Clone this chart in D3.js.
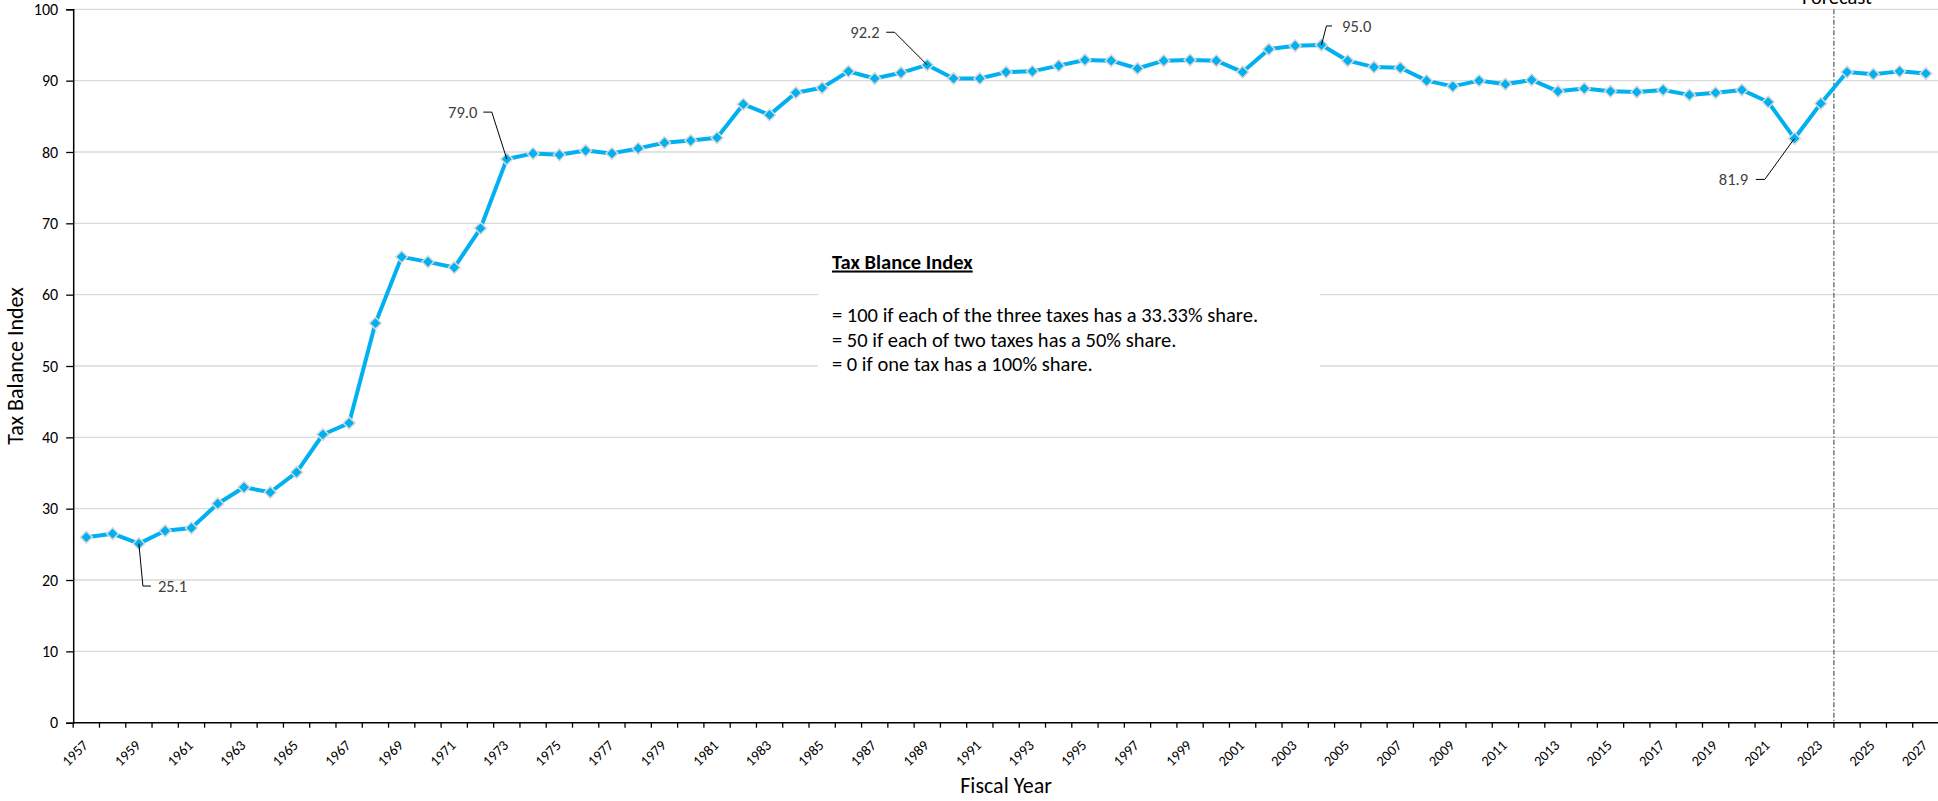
<!DOCTYPE html>
<html>
<head>
<meta charset="utf-8">
<script src="https://cdn.jsdelivr.net/npm/d3@7"></script>
<style>
  html, body { margin: 0; padding: 0; background: #fff; }
  svg { display: block; font-family: Calibri, Carlito, Lato, sans-serif; }
</style>
</head>
<body>
<div id="chart"></div>
<script>
// Tax balance index by fiscal year, 1957-2027 (2024+ is forecast)
var years = [1957, 1958, 1959, 1960, 1961, 1962, 1963, 1964, 1965, 1966, 1967, 1968, 1969, 1970,
  1971, 1972, 1973, 1974, 1975, 1976, 1977, 1978, 1979, 1980, 1981, 1982, 1983, 1984, 1985, 1986,
  1987, 1988, 1989, 1990, 1991, 1992, 1993, 1994, 1995, 1996, 1997, 1998, 1999, 2000, 2001, 2002,
  2003, 2004, 2005, 2006, 2007, 2008, 2009, 2010, 2011, 2012, 2013, 2014, 2015, 2016, 2017, 2018,
  2019, 2020, 2021, 2022, 2023, 2024, 2025, 2026, 2027];
var index = [26.0, 26.5, 25.1, 26.9, 27.3, 30.7, 33.0, 32.3, 35.1, 40.4, 42.0, 56.0, 65.3, 64.6,
  63.8, 69.3, 79.0, 79.8, 79.6, 80.2, 79.8, 80.5, 81.3, 81.6, 82.0, 86.7, 85.2, 88.3, 89.0, 91.3,
  90.3, 91.1, 92.2, 90.3, 90.3, 91.2, 91.3, 92.1, 92.9, 92.8, 91.7, 92.8, 92.9, 92.8, 91.2, 94.4,
  94.9, 95.0, 92.8, 91.9, 91.8, 90.0, 89.2, 90.0, 89.5, 90.1, 88.5, 88.9, 88.5, 88.4, 88.7, 88.0,
  88.3, 88.7, 87.0, 81.9, 86.8, 91.2, 90.9, 91.3, 91.0];
var yTicks = [0, 10, 20, 30, 40, 50, 60, 70, 80, 90, 100];
var labelYears = [1959, 1973, 1989, 2004, 2022];
var forecastStart = 2024;
var boxTitle = "Tax Blance Index";
var boxLines = [
  "= 100 if each of the three taxes has a 33.33% share.",
  "= 50 if each of two taxes has a 50% share.",
  "= 0 if one tax has a 100% share."
];

var W = 1938, H = 801;
var L = 73.2, R = 1939, T = 9.3, B = 722.7;
var BLUE = "#00B0F0", GRID = "#d9d9d9", LABEL = "#404040";

var svg = d3.select("#chart").append("svg").attr("width", W).attr("height", H);

var x = d3.scaleBand().domain(years).range([L, R]).padding(0);
var y = d3.scaleLinear().domain([0, 100]).range([B, T]);
var cx = function (yr) { return x(yr) + x.bandwidth() / 2; };

// gridlines
svg.append("g").selectAll("line").data(yTicks.filter(function (t) { return t > 0; })).join("line")
  .attr("x1", L).attr("x2", R).attr("y1", function (t) { return y(t); }).attr("y2", function (t) { return y(t); })
  .attr("stroke", GRID).attr("stroke-width", 1.3);

// y axis
var yAxis = svg.append("g").attr("transform", "translate(" + L + ",0)")
  .call(d3.axisLeft(y).tickValues(yTicks).tickSize(7).tickPadding(8));
yAxis.select(".domain").attr("stroke", "#000").attr("stroke-width", 1.5);
yAxis.selectAll(".tick line").attr("stroke", "#000").attr("stroke-width", 1.3);
yAxis.selectAll(".tick text").attr("font-size", 16).attr("fill", "#000")
  .attr("font-family", "Calibri, Carlito, Lato, sans-serif");

// x axis: tick marks on every category boundary, labels every other year
var bounds = years.map(function (yr) { return x(yr); });
var xg = svg.append("g");
xg.append("line").attr("x1", L).attr("x2", R).attr("y1", B).attr("y2", B).attr("stroke", "#000").attr("stroke-width", 1.5);
xg.selectAll("line.tk").data(bounds).join("line").attr("class", "tk")
  .attr("x1", function (b) { return b; }).attr("x2", function (b) { return b; })
  .attr("y1", B).attr("y2", B + 5).attr("stroke", "#000").attr("stroke-width", 1.3);
xg.selectAll("text").data(years.filter(function (yr, i) { return i % 2 === 0; })).join("text")
  .attr("transform", function (yr) { return "translate(" + (cx(yr) + 2.5) + "," + (B + 23.5) + ") rotate(-45)"; })
  .attr("text-anchor", "end").attr("font-size", 14.5).attr("fill", "#000").text(function (yr) { return yr; });

// axis titles
svg.append("text").attr("transform", "translate(23," + ((T + B) / 2) + ") rotate(-90)")
  .attr("text-anchor", "middle").attr("font-size", 22).attr("fill", "#000").text("Tax Balance Index");
svg.append("text").attr("x", (L + R) / 2).attr("y", 793)
  .attr("text-anchor", "middle").attr("font-size", 22).attr("fill", "#000").text("Fiscal Year");

// annotation box
var bx = 818, by = 238, bw = 502, bh = 142;
svg.append("rect").attr("x", bx).attr("y", by).attr("width", bw).attr("height", bh).attr("fill", "#fff");
svg.append("text").attr("x", bx + 14).attr("y", 268.5).attr("font-size", 20.5).attr("font-weight", "bold")
  .attr("text-decoration", "underline").attr("fill", "#000").text(boxTitle);
svg.append("g").selectAll("text").data(boxLines).join("text")
  .attr("x", bx + 14).attr("y", function (d, i) { return 322 + i * 24.6; })
  .attr("font-size", 20.5).attr("fill", "#000").text(function (d) { return d; });

// forecast divider
var fx = x(forecastStart);
svg.append("line").attr("x1", fx).attr("x2", fx).attr("y1", T).attr("y2", B)
  .attr("stroke", "#595959").attr("stroke-width", 1.2).attr("stroke-dasharray", "5,2,1.5,2");
svg.append("text").attr("x", fx + 3).attr("y", 4).attr("text-anchor", "middle")
  .attr("font-size", 20.5).attr("fill", "#000").text("Forecast");

// series line + diamond markers
var line = d3.line().x(function (d, i) { return cx(years[i]); }).y(function (d) { return y(d); });
svg.append("path").attr("d", line(index)).attr("fill", "none").attr("stroke", BLUE)
  .attr("stroke-width", 4).attr("stroke-linejoin", "round");
var diamond = d3.symbol().type(d3.symbolSquare).size(70);
svg.append("g").selectAll("path").data(index).join("path")
  .attr("d", diamond)
  .attr("transform", function (d, i) { return "translate(" + cx(years[i]) + "," + y(d) + ") rotate(45)"; })
  .attr("fill", BLUE).attr("stroke", GRID).attr("stroke-width", 1.5);

// data labels with leader lines: [elbow dx, elbow dy, end dx, text dx, anchor]
var leaders = {
  1959: [4, 42.4, 12, 19, "start"],
  1973: [-15, -47, -23.5, -29.5, "end"],
  1989: [-32.7, -32.7, -41, -47.7, "end"],
  2004: [5, -19, 10.6, 20.6, "start"],
  2022: [-29.7, 41, -38.7, -46.4, "end"]
};
labelYears.forEach(function (yr) {
  var v = index[years.indexOf(yr)], px = cx(yr), py = y(v), o = leaders[yr];
  svg.append("path")
    .attr("d", "M" + px + "," + py + "L" + (px + o[0]) + "," + (py + o[1]) + "L" + (px + o[2]) + "," + (py + o[1]))
    .attr("fill", "none").attr("stroke", "#000").attr("stroke-width", 1);
  svg.append("text").attr("x", px + o[3]).attr("y", py + o[1]).attr("dy", "0.35em")
    .attr("text-anchor", o[4]).attr("font-size", 16.5).attr("fill", LABEL).text(v.toFixed(1));
});
</script>
</body>
</html>
